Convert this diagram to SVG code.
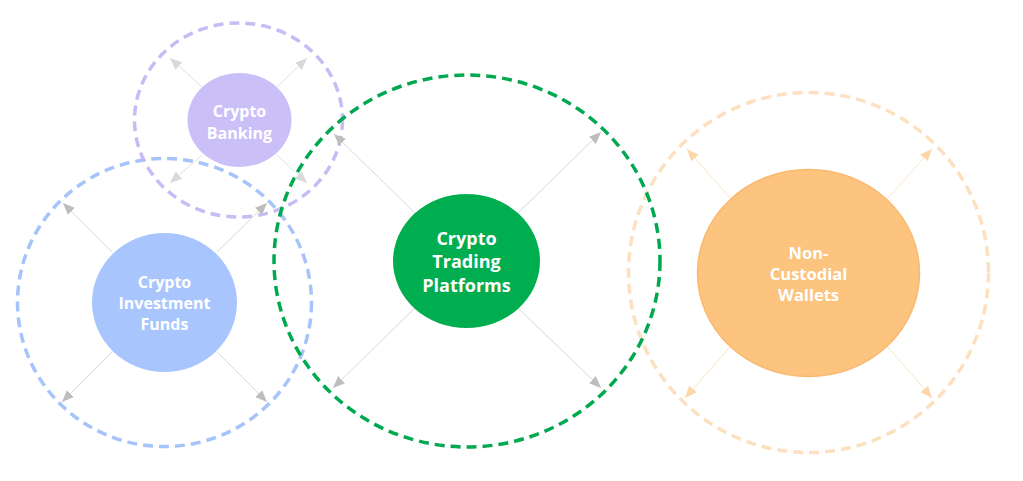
<svg xmlns="http://www.w3.org/2000/svg" width="1023" height="481" viewBox="0 0 1023 481">
<style>
.ring{fill:none;stroke-width:3.5;stroke-dasharray:10 6}
.lbl{font-family:"Open Sans",Lato,"DejaVu Sans",sans-serif;font-weight:bold;fill:#ffffff;text-anchor:middle}
.c{fill:none;stroke-width:1}
</style>
<defs>
<marker id="hg" markerUnits="userSpaceOnUse" markerWidth="12" markerHeight="10" refX="12" refY="5" orient="auto"><path d="M0,0 L12,5 L0,10 z" fill="#bdbdbd"/></marker>
<marker id="hl" markerUnits="userSpaceOnUse" markerWidth="12" markerHeight="10" refX="12" refY="5" orient="auto"><path d="M0,0 L12,5 L0,10 z" fill="#d9d9d9"/></marker>
<marker id="ho" markerUnits="userSpaceOnUse" markerWidth="12" markerHeight="10" refX="12" refY="5" orient="auto"><path d="M0,0 L12,5 L0,10 z" fill="#fdd7a9"/></marker>
</defs>
<rect width="1023" height="481" fill="#ffffff"/>
<g id="rings">
<ellipse class="ring" cx="164.5" cy="302.5" rx="147" ry="144" stroke="#a6c4fa"/>
<ellipse class="ring" cx="238.5" cy="120" rx="104" ry="97" stroke="#c8bcf5"/>
<ellipse class="ring" cx="808.5" cy="272.5" rx="180" ry="180" stroke="#fde0c0"/>
<ellipse class="ring" cx="467" cy="261" rx="193" ry="186" stroke="#00a84f"/>
</g>
<g id="connectors">
<line class="c" stroke="#e0e0e0" x1="202" y1="87" x2="170" y2="58" marker-end="url(#hl)"/>
<line class="c" stroke="#e0e0e0" x1="277" y1="87" x2="307" y2="58" marker-end="url(#hl)"/>
<line class="c" stroke="#e0e0e0" x1="202" y1="155" x2="170" y2="183" marker-end="url(#hl)"/>
<line class="c" stroke="#e0e0e0" x1="277" y1="155" x2="307" y2="183" marker-end="url(#hl)"/>
<line class="c" stroke="#d9d9d9" x1="112" y1="252" x2="63" y2="203" marker-end="url(#hg)"/>
<line class="c" stroke="#d9d9d9" x1="217" y1="252" x2="267" y2="203" marker-end="url(#hg)"/>
<line class="c" stroke="#d9d9d9" x1="112" y1="352" x2="62" y2="402" marker-end="url(#hg)"/>
<line class="c" stroke="#d9d9d9" x1="217" y1="352" x2="267" y2="402" marker-end="url(#hg)"/>
<line class="c" stroke="#d9d9d9" x1="415" y1="213" x2="334" y2="134" marker-end="url(#hg)"/>
<line class="c" stroke="#d9d9d9" x1="518" y1="213" x2="601" y2="132" marker-end="url(#hg)"/>
<line class="c" stroke="#d9d9d9" x1="415" y1="308" x2="333" y2="388" marker-end="url(#hg)"/>
<line class="c" stroke="#d9d9d9" x1="518" y1="308" x2="601" y2="388" marker-end="url(#hg)"/>
<line class="c" stroke="#fde4c6" x1="730" y1="198" x2="687" y2="149" marker-end="url(#ho)"/>
<line class="c" stroke="#fde4c6" x1="888" y1="198" x2="932" y2="149" marker-end="url(#ho)"/>
<line class="c" stroke="#fde4c6" x1="730" y1="347" x2="685" y2="398" marker-end="url(#ho)"/>
<line class="c" stroke="#fde4c6" x1="888" y1="347" x2="932" y2="398" marker-end="url(#ho)"/>
</g>
<g id="crypto-banking">
<ellipse cx="239.5" cy="120" rx="52" ry="47" fill="#cbbff8"/>
<text class="lbl" font-size="16" x="239.5" y="117">Crypto</text>
<text class="lbl" font-size="16" x="239.5" y="138.5">Banking</text>
</g>
<g id="crypto-investment-funds">
<ellipse cx="164.5" cy="302.5" rx="72.5" ry="69.5" fill="#a8c6fd"/>
<text class="lbl" font-size="16" x="164.5" y="288">Crypto</text>
<text class="lbl" font-size="16" x="164.5" y="309">Investment</text>
<text class="lbl" font-size="16" x="164.5" y="330">Funds</text>
</g>
<g id="crypto-trading-platforms">
<ellipse cx="466.5" cy="261" rx="73.5" ry="67" fill="#00ad4f"/>
<text class="lbl" font-size="18" x="466.5" y="244.5">Crypto</text>
<text class="lbl" font-size="18" x="466.5" y="268">Trading</text>
<text class="lbl" font-size="18" x="466.5" y="291.5">Platforms</text>
</g>
<g id="non-custodial-wallets">
<ellipse cx="808.5" cy="273" rx="111" ry="103.5" fill="#fcc47f" stroke="#f9b971" stroke-width="1.5"/>
<text class="lbl" font-size="16.5" x="808.5" y="258.5">Non-</text>
<text class="lbl" font-size="16.5" x="808.5" y="279.5">Custodial</text>
<text class="lbl" font-size="16.5" x="808.5" y="300.5">Wallets</text>
</g>
</svg>
